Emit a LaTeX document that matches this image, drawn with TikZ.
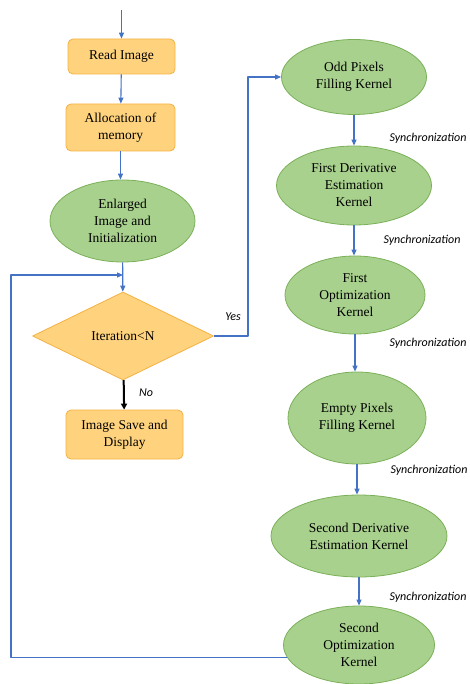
\documentclass[tikz,border=0pt]{standalone}
\usepackage{fontspec}
\newfontfamily\boxfont{Liberation Serif}
\newfontfamily\notefont{Carlito}
\usetikzlibrary{arrows.meta, shapes.geometric}

\definecolor{boxfill}{RGB}{255,211,125}
\definecolor{boxline}{RGB}{244,177,66}
\definecolor{ovalfill}{RGB}{169,209,142}
\definecolor{ovalline}{RGB}{122,176,88}
\definecolor{flowblue}{RGB}{68,114,196}

\tikzset{
  box/.style={draw=boxline, fill=boxfill, rounded corners=5pt, line width=0.8pt,
    align=center, inner sep=0pt, font=\boxfont\fontsize{13.5}{17}\selectfont},
  oval/.style={ellipse, draw=ovalline, fill=ovalfill, line width=0.8pt,
    align=center, inner sep=0pt, font=\boxfont\fontsize{13.5}{17}\selectfont},
  decision/.style={diamond, draw=boxline, fill=boxfill, line width=0.8pt,
    inner sep=0pt, font=\boxfont\fontsize{13.5}{17}\selectfont},
  flow/.style={draw=flowblue, line width=1.1pt, -{Triangle[length=6pt,width=5pt]}},
  noflow/.style={draw=black, line width=2pt, -{Triangle[length=6pt,width=6pt]}},
  note/.style={font=\notefont\itshape\fontsize{12}{14}\selectfont, inner sep=0pt}
}

\begin{document}
\begin{tikzpicture}[x=1pt, y=-1pt, line join=round]
\useasboundingbox (0,0) rectangle (469,684);
% left column
\coordinate (start) at (121.5,10);
\node[box, minimum width=107, minimum height=35] (ri) at (121.5,56.5) {Read Image};
\node[box, minimum width=109, minimum height=47] (al) at (120.5,127.5) {Allocation of\\memory};
\node[oval, minimum width=145, minimum height=82] (ei) at (122.5,221) {Enlarged\\Image and\\Initialization};
\node[decision, minimum width=181, minimum height=88] (it) at (123,336) {Iteration<N};
\node[box, minimum width=117, minimum height=49] (is) at (124.5,434.5) {Image Save and\\Display};
% right column
\node[oval, minimum width=145, minimum height=75] (op) at (354,77) {Odd Pixels\\Filling Kernel};
\node[oval, minimum width=155, minimum height=79] (fd) at (354,185.5) {First Derivative\\Estimation\\Kernel};
\node[oval, minimum width=140, minimum height=78] (fo) at (355,295) {First\\Optimization\\Kernel};
\node[oval, minimum width=138, minimum height=92] (ep) at (357,418) {Empty Pixels\\Filling Kernel};
\node[oval, minimum width=176, minimum height=82] (sd) at (359,536) {Second Derivative\\Estimation Kernel};
\node[oval, minimum width=151, minimum height=78] (so) at (359,645) {Second\\Optimization\\Kernel};
% labels
\node[note] (yes) at (233,317) {Yes};
\node[note] (no) at (146,393) {No};
\node[note] (sync1) at (428,138) {Synchronization};
\node[note] (sync2) at (422,240) {Synchronization};
\node[note] (sync3) at (428,343) {Synchronization};
\node[note] (sync4) at (429,470) {Synchronization};
\node[note] (sync5) at (428,597) {Synchronization};
% connectors
\coordinate (merge) at (123,275);
\coordinate (loopleft) at (11,275);
\coordinate (yesbend) at (248,336);
\draw[flow] (start) -- (ri);
\draw[flow] (ri) -- (al);
\draw[flow] (al.south) -- (al.south |- ei.north);
\draw[flow] (ei) -- (it);
\draw[noflow] (it) -- (is);
\draw[flow] (it.east) -- (yesbend) |- (op.west);
\draw[flow] (op.south) -- (op.south |- fd.north);
\draw[flow] (fd.south) -- (fd.south |- fo.north);
\draw[flow] (fo.south) -- (fo.south |- ep.north);
\draw[flow] (ep.south) -- (ep.south |- sd.north);
\draw[flow] (sd.south) -- (sd.south |- so.north);
\draw[flow] (so.190) -| (loopleft) -- (merge);
\end{tikzpicture}
\end{document}
